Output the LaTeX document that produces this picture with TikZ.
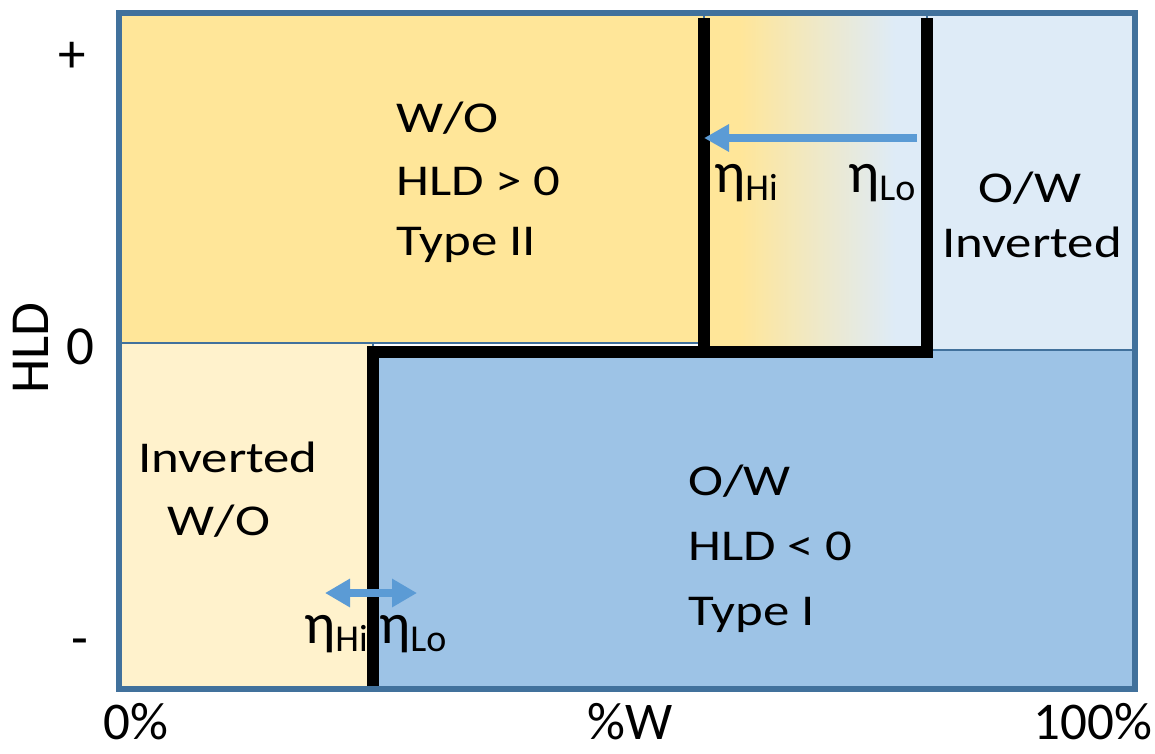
\documentclass[tikz,border=0pt]{standalone}
\usepackage{fontspec}
\setmainfont{Carlito}
\usepackage{graphicx}
\usetikzlibrary{arrows.meta}
\definecolor{framec}{HTML}{41719C}
\definecolor{yellowc}{HTML}{FFE699}
\definecolor{lyellowc}{HTML}{FFF2CC}
\definecolor{lbluec}{HTML}{DEEBF7}
\definecolor{bluec}{HTML}{9DC3E6}
\definecolor{arrowc}{HTML}{5B9BD5}
\newcommand\sx[1]{\scalebox{1.2}[1]{#1}}
\newcommand\etasub[1]{{\fontsize{58}{58}\selectfont η}\raisebox{-8pt}{\fontsize{38}{38}\selectfont #1}}
\begin{document}
\begin{tikzpicture}[x=1pt,y=-1pt,
  region/.style={draw=framec,line width=1.5pt},
  boundary/.style={line width=12pt,black,line join=miter},
  bluearrow/.style={line width=8pt,arrowc},
  lbl/.style={font=\fontsize{44}{44}\selectfont,inner sep=0pt},
  axl/.style={font=\fontsize{55}{55}\selectfont,inner sep=0pt},
  xaxl/.style={font=\fontsize{53}{53}\selectfont,inner sep=0pt,anchor=base},
  etal/.style={inner sep=0pt,anchor=base west}]
\useasboundingbox (0,0) rectangle (1155,753);
% regions
\fill[yellowc] (119,13) rectangle (704,343);
\draw[region] (119,13) rectangle (704,343);
\fill[yellowc] (704,13) rectangle (740,350);
\shade[left color=yellowc,right color=lbluec] (740,13) rectangle (895,350);
\fill[lbluec] (895,13) rectangle (927,350);
\draw[region] (704,13) rectangle (927,350);
\fill[lbluec] (927,13) rectangle (1135,350);
\draw[region] (927,13) rectangle (1135,350);
\fill[lyellowc] (119,343) rectangle (373,689);
\draw[region] (119,343) rectangle (373,689);
\fill[bluec] (373,350) rectangle (1135,689);
\draw[region] (373,350) rectangle (1135,689);
% phase boundaries
\draw[boundary] (704,18) -- (704,352);
\draw[boundary] (927,18) -- (927,352) -- (373,352) -- (373,689);
% frame
\draw[framec,line width=6pt] (119,13) rectangle (1135,689);
% arrows
\coordinate (ta) at (917,138);
\coordinate (tb) at (704,138);
\draw[bluearrow,-{Triangle[length=25pt,width=26pt]}] (ta) -- (tb);
\coordinate (ba) at (325,593);
\coordinate (bb) at (417,593);
\draw[bluearrow,{Triangle[length=25pt,width=27pt]}-{Triangle[length=25pt,width=27pt]}] (ba) -- (bb);
% region labels
\node[lbl,anchor=base west] (wo1) at (396,132) {\sx{W/O}};
\node[lbl,anchor=base west] (wo2) at (396,195) {\sx{HLD > 0}};
\node[lbl,anchor=base west] (wo3) at (396,255) {\sx{Type II}};
\node[lbl,anchor=base west] (ow1) at (688,495) {\sx{O/W}};
\node[lbl,anchor=base west] (ow2) at (688,560) {\sx{HLD < 0}};
\node[lbl,anchor=base west] (ow3) at (688,625) {\sx{Type I}};
\node[lbl,anchor=base] (owi1) at (1030,202) {\sx{O/W}};
\node[lbl,anchor=base] (owi2) at (1032,257) {\sx{Inverted}};
\node[lbl,anchor=base] (iwo1) at (228,472) {\sx{Inverted}};
\node[lbl,anchor=base] (iwo2) at (219,535) {\sx{W/O}};
% eta labels
\node[etal] (eh1) at (714,192) {\etasub{Hi}};
\node[etal] (el1) at (848,192) {\etasub{Lo}};
\node[etal] (eh2) at (304,643) {\etasub{Hi}};
\node[etal] (el2) at (379,643) {\etasub{Lo}};
% axes
\node[axl] (plus) at (72,57) {+};
\node[axl] (zero) at (80,347) {0};
\node[axl] (minus) at (80,648) {-};
\node[axl,rotate=90] (hld) at (31,348) {HLD};
\node[xaxl] (x0) at (136,739) {0\%};
\node[xaxl] (xw) at (630,739) {\%W};
\node[xaxl] (x100) at (1093,739) {100\%};
\end{tikzpicture}
\end{document}
